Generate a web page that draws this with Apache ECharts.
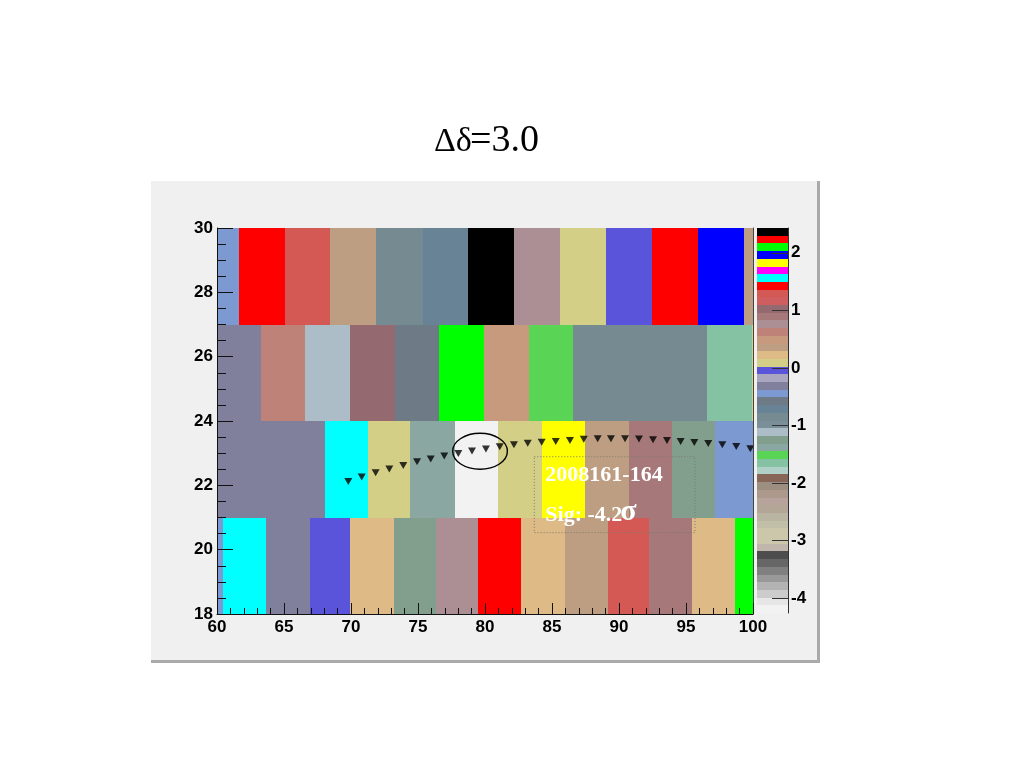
<!DOCTYPE html>
<html><head><meta charset="utf-8">
<script src="https://cdn.jsdelivr.net/npm/echarts@6/dist/echarts.min.js"></script>
<style>html,body{margin:0;padding:0;background:#fff}#c{width:1024px;height:768px}</style>
</head><body><div id="c"></div>
<script>
// ROOT default 50-colour palette, lowest value first
const palette = ['#f2f2f2','#e6e6e6','#cccccc','#b3b3b3','#999999','#808080','#666666','#4d4d4d','#c0b6ac','#ccc7ab',
 '#ccc7ab','#c2bfa8','#bab5a3','#b3a696','#b8a39c','#ad998c','#9c8f82','#876657','#b0cfc7','#85c2a3',
 '#59d454','#8aa8a1','#829e8c','#adbdc7','#7a8f99','#758a91','#688296','#6e7a85','#7d99d1','#80809c',
 '#aba6bf','#5954d9','#d4cf87','#deba87','#bd9e82','#c7997d','#bf8278','#ab8f94','#a6787a','#946970',
 '#cf5e61','#d45954','#ff0000','#00ffff','#ff00ff','#ffff00','#0000ff','#00ff00','#ff0000','#000000'];
const zMin = -4.26, zMax = 2.43;
const zTicks = [-4, -3, -2, -1, 0, 1, 2];

// rows of cells: y range [bottom, bottom+3]
const rowBottoms = [27, 24, 21, 18];
const rowHeight = 3;
const edges27 = [60, 61.64, 65.07, 68.45, 71.88, 75.36, 78.75, 82.18, 85.6, 89.03, 92.46, 95.86, 99.33, 100];
const values27 = [-0.45, 1.43, 1.29, 0.36, -0.85, -0.71, 2.36, 0.76, 0.09, -0.05, 2.23, 1.96, 0.36];
const edges24 = [60, 63.3, 66.6, 69.9, 73.25, 76.6, 79.9, 83.25, 86.6, 89.9, 93.25, 96.55, 99.9, 100];
const values24 = [-0.31, 0.62, -1.12, 1.03, -0.58, 2.10, 0.49, -1.52, -0.85, -0.85, -0.85, -1.65, 0.09];
const edges21 = [60, 68.06, 71.27, 74.4, 77.76, 80.97, 84.25, 87.46, 90.75, 93.96, 97.16, 100];
const values21 = [-0.31, 1.56, 0.09, -1.38, -4.19, 0.09, 1.83, 0.36, 0.89, -1.25, -0.45];
const edges18 = [60, 60.45, 63.66, 66.94, 69.93, 73.2, 76.34, 79.48, 82.69, 85.97, 89.18, 92.24, 95.45, 98.66, 100];
const values18 = [-0.45, 1.56, -0.31, -0.05, 0.22, -1.25, 0.76, 1.43, 0.22, 0.36, 1.29, 0.89, 0.22, 2.10];
const rowEdges = [edges27, edges24, edges21, edges18];
const rowValues = [values27, values24, values21, values18];

// black inverted-triangle markers
const markerX = [69.80,70.80,71.84,72.86,73.90,74.93,75.95,76.96,78.01,79.03,80.07,81.10,82.16,83.19,84.23,
 85.28,86.34,87.37,88.41,89.40,90.45,91.49,92.54,93.58,94.60,95.62,96.66,97.71,98.75,99.80];
const markerY = [22.12,22.26,22.39,22.51,22.62,22.73,22.82,22.91,22.99,23.07,23.13,23.20,23.26,23.31,23.34,
 23.36,23.39,23.43,23.45,23.45,23.45,23.44,23.42,23.39,23.36,23.33,23.30,23.26,23.21,23.14];

// annotations
const ellipseSpec = [79.63, 23.06, 2.04, 0.56]; // cx, cy, rx, ry (data units)
const boxSpec = [83.68, 95.67, 20.53, 22.89];   // x0, x1, y0, y1
const boxLine1 = '2008161-164';
const boxLine2 = 'Sig: -4.2';
const titleA = 'Δδ', titleB = '=3.0';

function zColor(z) {
  let i = Math.floor((z - zMin) / (zMax - zMin) * palette.length);
  i = Math.max(0, Math.min(palette.length - 1, i));
  return palette[i];
}

const cellData = [];
rowBottoms.forEach((yb, r) => {
  const e = rowEdges[r], v = rowValues[r];
  for (let i = 0; i < v.length; i++) cellData.push([e[i], e[i + 1], yb, yb + rowHeight, v[i]]);
});
const barData = palette.map((c, i) => [0, 1, zMin + i * (zMax - zMin) / palette.length, zMin + (i + 1) * (zMax - zMin) / palette.length, i]);
const markerData = markerX.map((x, i) => [x, markerY[i]]);
const zTickData = zTicks.map(z => [1, z]);

const lblFont = {fontFamily: 'Liberation Sans', fontWeight: 'bold', fontSize: 17, color: '#000'};

const chart = echarts.init(document.getElementById('c'), null, {renderer: 'canvas'});
chart.setOption({
  backgroundColor: '#ffffff',
  animation: false,
  graphic: [
    {type: 'rect', z: -10, shape: {x: 151, y: 181, width: 669, height: 482}, style: {fill: '#f0f0f0'}},
    {type: 'rect', z: -9, shape: {x: 817, y: 181, width: 3, height: 482}, style: {fill: '#aaaaaa'}},
    {type: 'rect', z: -9, shape: {x: 151, y: 660, width: 669, height: 3}, style: {fill: '#aaaaaa'}},
    {type: 'text', x: 434, y: 142, style: {text: titleA, font: '34px "Liberation Serif"', fill: '#000', verticalAlign: 'middle'}},
    {type: 'text', x: 470, y: 141, style: {text: titleB, font: '38px "Liberation Serif"', fill: '#000', verticalAlign: 'middle'}}
  ],
  grid: [
    {left: 217, top: 228, width: 536, height: 386},
    {left: 757, top: 228, width: 31, height: 385}
  ],
  xAxis: [
    {gridIndex: 0, type: 'value', min: 60, max: 100, interval: 5, z: 10,
     axisLine: {show: true, onZero: false, lineStyle: {color: '#111', width: 1}},
     axisTick: {show: true, inside: true, length: 11, lineStyle: {color: '#111'}},
     minorTick: {show: true, splitNumber: 5, length: 6, lineStyle: {color: '#111'}},
     axisLabel: Object.assign({margin: 5}, lblFont),
     splitLine: {show: false}},
    {gridIndex: 1, type: 'value', min: 0, max: 1, show: false}
  ],
  yAxis: [
    {gridIndex: 0, type: 'value', min: 18, max: 30, interval: 2, z: 10,
     axisLine: {show: true, onZero: false, lineStyle: {color: '#111', width: 1}},
     axisTick: {show: true, inside: true, length: 16, lineStyle: {color: '#111'}},
     minorTick: {show: true, splitNumber: 4, length: 9, lineStyle: {color: '#111'}},
     axisLabel: Object.assign({margin: 4}, lblFont),
     splitLine: {show: false}},
    {gridIndex: 1, type: 'value', min: zMin, max: zMax, position: 'right', z: 10,
     axisLine: {show: true, onZero: false, lineStyle: {color: '#333', width: 1}},
     axisTick: {show: false},
     axisLabel: Object.assign({margin: 3, customValues: zTicks}, lblFont),
     splitLine: {show: false}},
    {gridIndex: 0, type: 'value', min: 18, max: 30, position: 'right', z: 10,
     axisLine: {show: true, onZero: false, lineStyle: {color: '#444', width: 1}},
     axisTick: {show: false}, axisLabel: {show: false}, splitLine: {show: false}}
  ],
  series: [
    {type: 'custom', xAxisIndex: 0, yAxisIndex: 0, z: 2, data: cellData,
     encode: {x: [0, 1], y: [2, 3]},
     renderItem: function (params, api) {
       const p0 = api.coord([api.value(0), api.value(3)]);
       const p1 = api.coord([api.value(1), api.value(2)]);
       const x0 = Math.round(p0[0]), y0 = Math.round(p0[1]), x1 = Math.round(p1[0]), y1 = Math.round(p1[1]);
       return {type: 'rect', shape: {x: x0, y: y0, width: x1 - x0, height: y1 - y0},
               style: {fill: zColor(api.value(4)), stroke: null}};
     }},
    {type: 'custom', xAxisIndex: 1, yAxisIndex: 1, z: 2, data: barData,
     encode: {x: [0, 1], y: [2, 3]},
     renderItem: function (params, api) {
       const p0 = api.coord([api.value(0), api.value(3)]);
       const p1 = api.coord([api.value(1), api.value(2)]);
       const y0 = Math.round(p0[1]), y1 = Math.round(p1[1]);
       return {type: 'rect', shape: {x: p0[0], y: y0, width: p1[0] - p0[0], height: y1 - y0},
               style: {fill: palette[api.value(4)], stroke: null}};
     }},
    {type: 'custom', xAxisIndex: 1, yAxisIndex: 1, z: 6, data: zTickData,
     encode: {x: 0, y: 1},
     renderItem: function (params, api) {
       const p = api.coord([api.value(0), api.value(1)]);
       const y = Math.round(p[1]) + 0.5;
       return {type: 'line', shape: {x1: p[0] - 16, y1: y, x2: p[0], y2: y},
               style: {stroke: '#333', lineWidth: 1}};
     }},
    {type: 'scatter', xAxisIndex: 0, yAxisIndex: 0, z: 4, data: markerData,
     symbol: 'path://M0,0 L10,0 L5,9 Z', symbolSize: [8, 7],
     itemStyle: {color: '#000'}},
    {type: 'custom', xAxisIndex: 0, yAxisIndex: 0, z: 5, data: [ellipseSpec],
     encode: {x: 0, y: 1},
     renderItem: function (params, api) {
       const c = api.coord([api.value(0), api.value(1)]);
       const s = api.size([api.value(2), api.value(3)]);
       return {type: 'ellipse', shape: {cx: c[0], cy: c[1], rx: s[0], ry: s[1]},
               style: {fill: null, stroke: '#000', lineWidth: 1.4}};
     }},
    {type: 'custom', xAxisIndex: 0, yAxisIndex: 0, z: 5, data: [boxSpec],
     encode: {x: [0, 1], y: [2, 3]},
     renderItem: function (params, api) {
       const p0 = api.coord([api.value(0), api.value(3)]);
       const p1 = api.coord([api.value(1), api.value(2)]);
       return {type: 'group', children: [
         {type: 'rect', shape: {x: p0[0], y: p0[1], width: p1[0] - p0[0], height: p1[1] - p0[1]},
          style: {fill: null, stroke: '#7a7a6a', lineWidth: 1, lineDash: [1, 2]}},
         {type: 'text', x: p0[0] + 11, y: p0[1] + 19, style: {text: boxLine1, font: 'bold 22px "Liberation Serif"', fill: '#fff', verticalAlign: 'middle'}},
         {type: 'text', x: p0[0] + 11, y: p0[1] + 59, style: {text: boxLine2, font: 'bold 22px "Liberation Serif"', fill: '#fff', verticalAlign: 'middle'}},
         {type: 'text', x: p0[0] + 86, y: p0[1] + 56, style: {text: 'σ', font: 'bold 30px "Liberation Serif"', fill: '#fff', verticalAlign: 'middle'}}
       ]};
     }}
  ]
});
</script></body></html>
